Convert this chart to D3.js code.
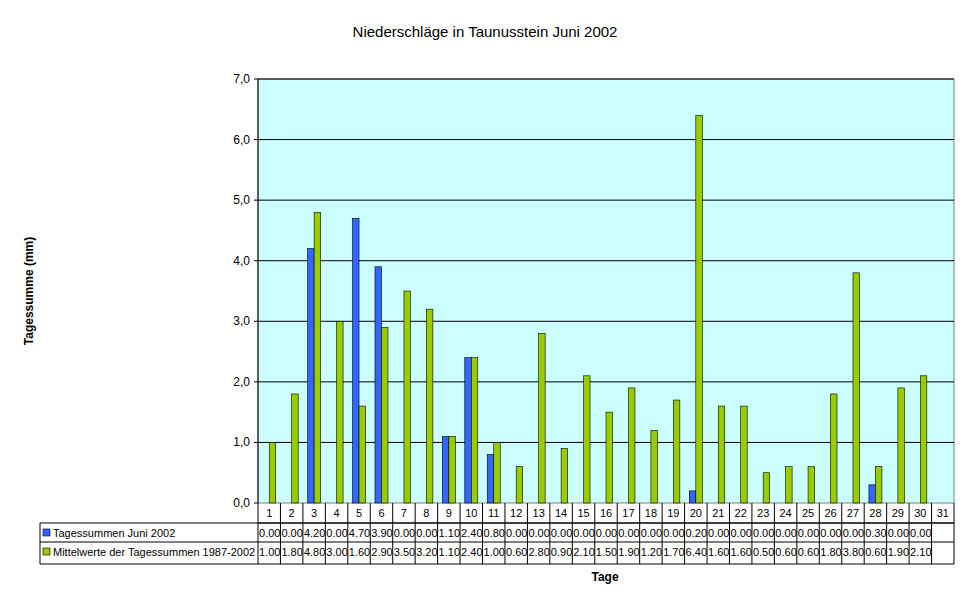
<!DOCTYPE html>
<html><head><meta charset="utf-8">
<script src="https://cdn.jsdelivr.net/npm/d3@7"></script>
<style>body{margin:0;background:#fff}svg{font-family:Arial,"Liberation Sans",sans-serif}</style>
</head><body><svg id="c" width="970" height="604"></svg>
<script>
const days = d3.range(1,32).map(String);
const seriesNames = ["Tagessummen Juni 2002","Mittelwerte der Tagessummen 1987-2002"];
const june2002 = [0,0,4.2,0,4.7,3.9,0,0,1.1,2.4,0.8,0,0,0,0,0,0,0,0,0.2,0,0,0,0,0,0,0,0.3,0,0,null];
const mean8702 = [1,1.8,4.8,3,1.6,2.9,3.5,3.2,1.1,2.4,1,0.6,2.8,0.9,2.1,1.5,1.9,1.2,1.7,6.4,1.6,1.6,0.5,0.6,0.6,1.8,3.8,0.6,1.9,2.1,null];
const yTicks = [0,1,2,3,4,5,6,7];
const colors = ["#3366FF","#99CC00"];
const svg = d3.select("#c");
const L=258,R=954,T=79,B=503;
const x = d3.scaleBand().domain(days).range([L,R]);
const y = d3.scaleLinear().domain([0,7]).range([B,T]);
svg.append("rect").attr("x",L).attr("y",T).attr("width",R-L).attr("height",B-T).attr("fill","#CCFFFF").attr("stroke","#808080");
svg.selectAll(".g").data(yTicks.slice(1)).join("line").attr("x1",L).attr("x2",R).attr("y1",d=>y(d)).attr("y2",d=>y(d)).attr("stroke","#000");
svg.selectAll(".yt").data(yTicks).join("text").attr("x",L-8).attr("y",d=>y(d)+4).attr("text-anchor","end").attr("font-size",12).text(d=>d.toFixed(1).replace(".",","));
svg.selectAll(".ytk").data(yTicks).join("line").attr("x1",L-4).attr("x2",L).attr("y1",d=>y(d)).attr("y2",d=>y(d)).attr("stroke","#000");
svg.append("line").attr("x1",L).attr("x2",L).attr("y1",T).attr("y2",B).attr("stroke","#000");
const bw=6.5;
[june2002,mean8702].forEach((s,i)=>{
  svg.append("g").selectAll("rect").data(days.map((d,j)=>({d,v:s[j]})).filter(o=>o.v)).join("rect")
   .attr("x",o=>x(o.d)+x.bandwidth()/2-bw+i*bw).attr("width",bw)
   .attr("y",o=>y(o.v)).attr("height",o=>B-y(o.v)).attr("fill",colors[i]).attr("stroke","#000").attr("stroke-width",0.6);
});
// table
const rows=[B,523,542,564];
const tb=svg.append("g");
tb.append("line").attr("x1",L).attr("x2",R).attr("y1",rows[1]).attr("y2",rows[1]).attr("stroke","#000");
tb.append("line").attr("x1",40).attr("x2",R).attr("y1",rows[1]).attr("y2",rows[1]).attr("stroke","#000");
tb.append("line").attr("x1",40).attr("x2",R).attr("y1",rows[2]).attr("y2",rows[2]).attr("stroke","#000");
tb.append("line").attr("x1",40).attr("x2",R).attr("y1",rows[3]).attr("y2",rows[3]).attr("stroke","#000");
tb.append("line").attr("x1",40).attr("x2",40).attr("y1",rows[1]).attr("y2",rows[3]).attr("stroke","#000");
tb.append("line").attr("x1",L).attr("x2",L).attr("y1",B).attr("y2",rows[3]).attr("stroke","#000");
tb.selectAll(".v").data(days).join("line").attr("x1",d=>x(d)+x.bandwidth()).attr("x2",d=>x(d)+x.bandwidth()).attr("y1",B).attr("y2",rows[3]).attr("stroke","#000");
tb.selectAll(".d").data(days).join("text").attr("x",d=>x(d)+x.bandwidth()/2).attr("y",517).attr("text-anchor","middle").attr("font-size",11).text(d=>d);
[june2002,mean8702].forEach((s,i)=>{
  tb.selectAll(".r"+i).data(days.map((d,j)=>({d,v:s[j]})).filter(o=>o.v!==null)).join("text")
   .attr("x",o=>x(o.d)+1).attr("y",rows[i+1]+14).attr("font-size",11).attr("textLength",x.bandwidth()-1).attr("lengthAdjust","spacingAndGlyphs").text(o=>o.v.toFixed(2));
  tb.append("rect").attr("x",43).attr("y",rows[i+1]+6).attr("width",7).attr("height",7).attr("fill",colors[i]).attr("stroke","#000").attr("stroke-width",0.6);
  tb.append("text").attr("x",53).attr("y",rows[i+1]+14).attr("font-size",11).text(seriesNames[i]);
});
svg.append("text").attr("x",485).attr("y",37).attr("text-anchor","middle").attr("font-size",15).text("Niederschläge in Taunusstein Juni 2002");
svg.append("text").attr("x",605).attr("y",581).attr("text-anchor","middle").attr("font-size",12).attr("font-weight","bold").text("Tage");
svg.append("text").attr("transform","translate(33,291) rotate(-90)").attr("text-anchor","middle").attr("font-size",12).attr("font-weight","bold").text("Tagessumme (mm)");
</script></body></html>
